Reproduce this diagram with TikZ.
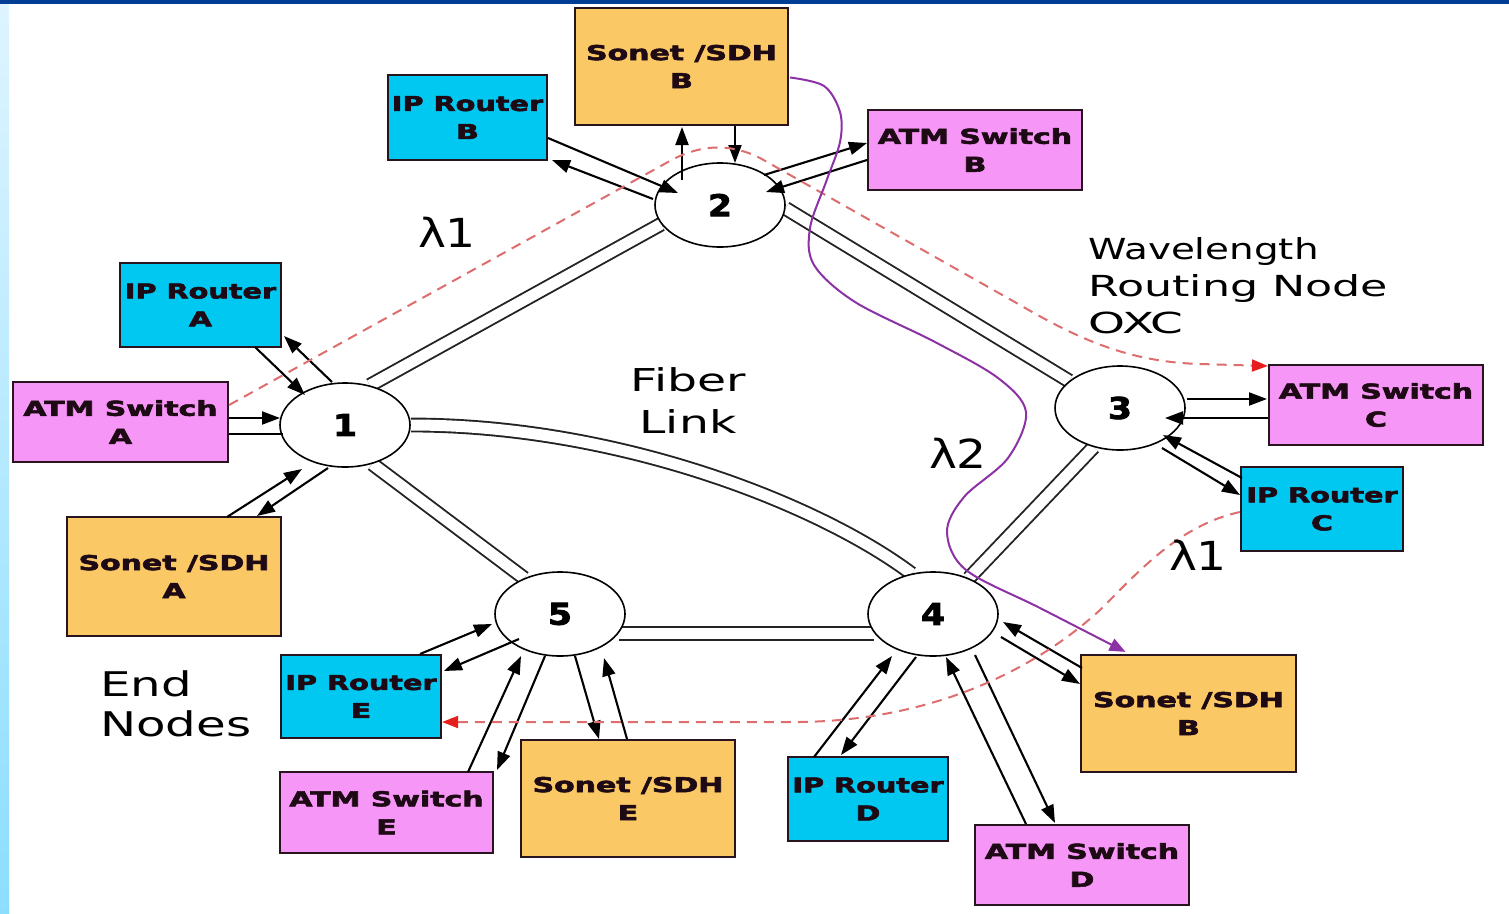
\documentclass[tikz,border=0pt]{standalone}
\usepackage{fontspec}
\usetikzlibrary{arrows.meta,shapes.geometric,calc}
\newfontfamily\dvs{DejaVu Sans}
\newfontfamily\boxf{DejaVu Sans}[BoldFeatures={FakeBold=2.5}]
\pgfdeclarelayer{bg}
\pgfsetlayers{bg,main}
\definecolor{cyanbox}{RGB}{0,200,240}
\definecolor{pinkbox}{RGB}{246,150,246}
\definecolor{orangebox}{RGB}{250,200,100}
\definecolor{boxline}{RGB}{40,20,30}
\definecolor{boxtext}{RGB}{30,10,20}
\definecolor{topbar}{RGB}{0,62,150}
\definecolor{stripTop}{RGB}{222,244,255}
\definecolor{stripBot}{RGB}{140,222,255}
\definecolor{lampath}{RGB}{222,110,110}
\definecolor{lamhead}{RGB}{230,30,30}
\definecolor{purp}{RGB}{140,50,165}
\definecolor{fiber}{RGB}{35,35,35}
\newcommand{\hx}[2]{\scalebox{#1}[1]{#2}}
\newcommand{\bt}[1]{\scalebox{1.46}[1]{#1}}
\newcommand{\ipt}[1]{\scalebox{1.40}[1]{#1}}
\begin{document}
\begin{tikzpicture}[x=1pt,y=-1pt,
  box/.style={draw=boxline, line width=2.2pt, inner sep=0pt, align=center, text=boxtext,
    font=\boxf\bfseries\fontsize{20.5}{28}\selectfont},
  oxc/.style={ellipse, draw=black, line width=1.6pt, fill=white, minimum width=130pt,
    minimum height=84pt, inner sep=0pt, font=\boxf\bfseries\fontsize{30}{36}\selectfont},
  fib/.style={draw=fiber, line width=1.9pt, double=white, double distance=11pt},
  arr/.style={draw=black, line width=2.1pt, -{Triangle[length=18pt,width=13pt]}},
  plain/.style={draw=black, line width=2.1pt},
  lamdash/.style={draw=lampath, line width=2pt, dash pattern=on 10pt off 7pt,
    -{Triangle[length=16pt,width=12pt,color=lamhead]}},
  lamtrace/.style={draw=purp, line width=2pt, -{Triangle[length=16pt,width=13pt,color=purp]}},
  lbl/.style={inner sep=0pt, text=black}]
\useasboundingbox (0,0) rectangle (1509,913);

% ---------- optical cross-connect nodes
\node[oxc] (n1) at (345,425) {\hx{1.15}{1}};
\node[oxc] (n2) at (720,205) {\hx{1.15}{2}};
\node[oxc] (n3) at (1120,408) {\hx{1.15}{3}};
\node[oxc] (n4) at (933,614) {\hx{1.15}{4}};
\node[oxc] (n5) at (560,614) {\hx{1.15}{5}};

% ---------- end nodes
\node[box, fill=orangebox, minimum width=213pt, minimum height=117pt] (sonetBt) at (681.5,66.5) {\bt{Sonet /SDH}\\\bt{B}};
\node[box, fill=cyanbox, minimum width=159pt, minimum height=85pt] (ipB) at (467.5,117.5) {\ipt{IP Router}\\\bt{B}};
\node[box, fill=pinkbox, minimum width=214pt, minimum height=80pt] (atmB) at (975,150) {\bt{ATM Switch}\\\bt{B}};
\node[box, fill=cyanbox, minimum width=161pt, minimum height=84pt] (ipA) at (200.5,305) {\ipt{IP Router}\\\bt{A}};
\node[box, fill=pinkbox, minimum width=215pt, minimum height=80pt] (atmA) at (120.5,422) {\bt{ATM Switch}\\\bt{A}};
\node[box, fill=orangebox, minimum width=214pt, minimum height=119pt] (sonetA) at (174,576.5) {\bt{Sonet /SDH}\\\bt{A}};
\node[box, fill=pinkbox, minimum width=214pt, minimum height=80pt] (atmC) at (1376,405) {\bt{ATM Switch}\\\bt{C}};
\node[box, fill=cyanbox, minimum width=162pt, minimum height=84pt] (ipC) at (1322,509) {\ipt{IP Router}\\\bt{C}};
\node[box, fill=orangebox, minimum width=215pt, minimum height=117pt] (sonetBr) at (1188.5,713.5) {\bt{Sonet /SDH}\\\bt{B}};
\node[box, fill=cyanbox, minimum width=160pt, minimum height=83pt] (ipE) at (361,696.5) {\ipt{IP Router}\\\bt{E}};
\node[box, fill=pinkbox, minimum width=213pt, minimum height=81pt] (atmE) at (386.5,812.5) {\bt{ATM Switch}\\\bt{E}};
\node[box, fill=orangebox, minimum width=214pt, minimum height=117pt] (sonetE) at (628,798.5) {\bt{Sonet /SDH}\\\bt{E}};
\node[box, fill=cyanbox, minimum width=160pt, minimum height=84pt] (ipD) at (868,799) {\ipt{IP Router}\\\bt{D}};
\node[box, fill=pinkbox, minimum width=214pt, minimum height=80pt] (atmD) at (1082,865) {\bt{ATM Switch}\\\bt{D}};

% ---------- background and fiber links
\begin{pgfonlayer}{bg}
  \fill[white] (0,0) rectangle (1509,913);
  \fill[topbar] (0,0) rectangle (1509,4);
  \shade[top color=stripTop, bottom color=stripBot] (0,4) rectangle (9,913);
  \draw[fib] (n1.58) -- (n2.198);
  \draw[fib] (n2.-3) -- (n3.152);
  \draw[fib] (n3.236) -- (n4.45);
  \draw[fib] (n1.-55) -- (n5.135);
  \draw[fib] (n5.-18) -- (n4.198);
  \draw[fib] (n1.0) .. controls (620,425) and (820,505) .. (n4.118);
\end{pgfonlayer}

% ---------- access links around node 2
\draw[arr] ($(ipB)+(80.5,20.5)$) -- ($(n2)+(-42,-12)$);
\draw[arr] ($(n2)+(-67,-6)$) -- ($(ipB)+(84.5,42.5)$);
\draw[arr] ($(n2)+(-38,-25)$) -- ($(sonetBt)+(0.5,60.5)$);
\draw[arr] ($(sonetBt)+(53.5,59.5)$) -- ($(n2)+(15,-42)$);
\draw[arr] ($(n2)+(44,-30)$) -- ($(atmB)+(-108,-7)$);
\draw[arr] ($(atmB)+(-108,10)$) -- ($(n2)+(46,-13)$);
% around node 1
\draw[arr] ($(ipA)+(54.5,42)$) -- ($(n1)+(-40,-30)$);
\draw[arr] ($(n1)+(-13,-43)$) -- ($(ipA)+(83.5,31)$);
\draw[arr] ($(atmA)+(108.5,-4)$) -- ($(n1)+(-65,-7)$);
\draw[plain] ($(atmA)+(108.5,12)$) -- ($(n1)+(-62,9)$);
\draw[arr] ($(sonetA)+(53,-59.5)$) -- ($(n1)+(-43,44)$);
\draw[arr] ($(n1)+(-17,43)$) -- ($(sonetA)+(83,-60.5)$);
% around node 3
\draw[arr] ($(n3)+(67,-9)$) -- ($(atmC)+(-109,-6)$);
\draw[arr] ($(atmC)+(-108,13)$) -- ($(n3)+(45,10)$);
\draw[arr] ($(ipC)+(-80,-31)$) -- ($(n3)+(43,27)$);
\draw[arr] ($(n3)+(42,40)$) -- ($(ipC)+(-82,-14)$);
% around node 5
\draw[arr] ($(ipE)+(59,-42.5)$) -- ($(n5)+(-68,10)$);
\draw[arr] ($(n5)+(-41,25)$) -- ($(ipE)+(83,-25.5)$);
\draw[arr] ($(atmE)+(81.5,-40.5)$) -- ($(n5)+(-39,42)$);
\draw[arr] ($(n5)+(-15,42)$) -- ($(atmE)+(110.5,-42.5)$);
\draw[arr] ($(n5)+(15,42)$) -- ($(sonetE)+(-29,-59.5)$);
\draw[arr] ($(sonetE)+(-1,-59.5)$) -- ($(n5)+(44,44)$);
% around node 4
\draw[arr] ($(ipD)+(-54,-42)$) -- ($(n4)+(-41,42)$);
\draw[arr] ($(n4)+(-17,43)$) -- ($(ipD)+(-27,-44)$);
\draw[arr] ($(atmD)+(-56,-41)$) -- ($(n4)+(13,43)$);
\draw[arr] ($(n4)+(42,41)$) -- ($(atmD)+(-27,-42)$);
\draw[arr] ($(sonetBr)+(-106.5,-45.5)$) -- ($(n4)+(70,8)$);
\draw[arr] ($(n4)+(68,23)$) -- ($(sonetBr)+(-108.5,-29.5)$);

% ---------- lightpaths
\draw[lamdash] ([yshift=17pt]atmA.east) -- (668,162)
   .. controls (698,145) and (728,142) .. (760,158) -- (1020,305)
   .. controls (1080,340) and (1130,362) .. (1200,364) -- ([yshift=39pt]atmC.west);
\draw[lamdash] ([yshift=-3pt]ipC.west) .. controls (1180,525) and (1140,570) .. (1100,610)
   .. controls (1040,665) and (940,720) .. (800,722) -- ([yshift=-25.5pt]ipE.east);
\coordinate (pstart) at ($(sonetBt.east)+(1,11)$);
\coordinate (pend) at ($(sonetBr.north)+(-63,-2)$);
\draw[lamtrace] plot[smooth, tension=0.55] coordinates {(pstart) (824,86) (840,112) (840,142)
   (826,182) (810,228) (814,265) (855,302) (935,342) (998,378) (1026,412) (1008,458)
   (964,497) (947,532) (966,570) (1040,608) (pend)};

% ---------- labels
\node[lbl, font=\dvs\fontsize{40}{48}\selectfont] (lam1a) at (447,232) {\hx{1.18}{λ1}};
\node[lbl, font=\dvs\fontsize{40}{48}\selectfont] (lam2) at (958,453) {\hx{1.18}{λ2}};
\node[lbl, font=\dvs\fontsize{40}{48}\selectfont] (lam1b) at (1198,555) {\hx{1.18}{λ1}};
\node[lbl, align=center, anchor=north, font=\dvs\fontsize{31.5}{42}\selectfont] (fiberlbl) at (688,367)
   {\hx{1.5}{Fiber}\\\hx{1.5}{Link}};
\node[lbl, align=left, anchor=north west, font=\dvs\fontsize{29}{37}\selectfont] (oxclbl) at (1088,237)
   {\hx{1.34}{Wavelength}\\\hx{1.53}{Routing Node}\\\hx{1.62}{OXC}};
\node[lbl, align=left, anchor=north west, font=\dvs\fontsize{34}{40}\selectfont] (endlbl) at (100,670)
   {\hx{1.42}{End}\\\hx{1.42}{Nodes}};
\end{tikzpicture}
\end{document}
